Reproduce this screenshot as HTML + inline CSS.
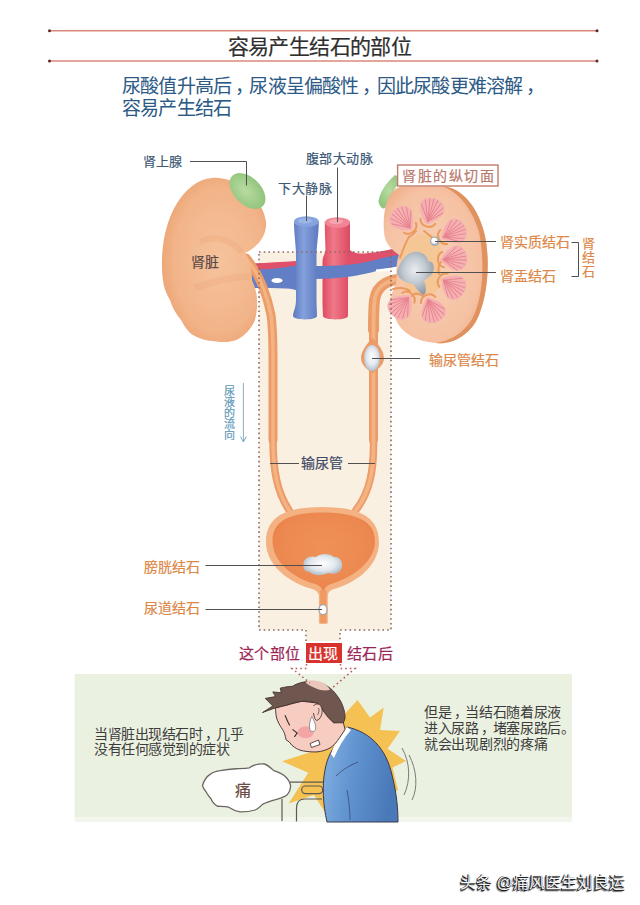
<!DOCTYPE html>
<html lang="zh-CN"><head><meta charset="utf-8">
<style>
html,body{margin:0;padding:0;background:#fff;}
body{width:640px;height:905px;position:relative;overflow:hidden;font-family:"Liberation Sans",sans-serif;}
.t{position:absolute;white-space:nowrap;line-height:1;-webkit-text-stroke:0.2px currentColor;}
svg{position:absolute;left:0;top:0;}
.or{color:#dd8848;}
.cm{position:relative;left:0.18em;}
</style></head><body>
<svg width="640" height="905" viewBox="0 0 640 905">
<defs>
  <radialGradient id="kidL" cx="0.55" cy="0.5" r="0.62">
    <stop offset="0" stop-color="#f6c39c"/>
    <stop offset="0.7" stop-color="#f2b489"/>
    <stop offset="1" stop-color="#e99f6e"/>
  </radialGradient>
  <radialGradient id="kidR" cx="0.45" cy="0.5" r="0.6">
    <stop offset="0" stop-color="#f8d0b6"/>
    <stop offset="0.8" stop-color="#f5c1a2"/>
    <stop offset="1" stop-color="#efad88"/>
  </radialGradient>
  <linearGradient id="ivc" x1="0" x2="1">
    <stop offset="0" stop-color="#5d79c0"/>
    <stop offset="0.4" stop-color="#84a0dc"/>
    <stop offset="1" stop-color="#5d79c0"/>
  </linearGradient>
  <linearGradient id="aor" x1="0" x2="1">
    <stop offset="0" stop-color="#de4a62"/>
    <stop offset="0.4" stop-color="#f07888"/>
    <stop offset="1" stop-color="#dc4a62"/>
  </linearGradient>
  <radialGradient id="stone" cx="0.48" cy="0.42" r="0.6">
    <stop offset="0" stop-color="#e9edf0"/>
    <stop offset="0.5" stop-color="#c2cad2"/>
    <stop offset="1" stop-color="#8d97a3"/>
  </radialGradient>
  <radialGradient id="stone2" cx="0.5" cy="0.45" r="0.6">
    <stop offset="0" stop-color="#ffffff"/>
    <stop offset="0.55" stop-color="#e2e8ee"/>
    <stop offset="1" stop-color="#a9b5c2"/>
  </radialGradient>
  <radialGradient id="bladIn" cx="0.5" cy="0.45" r="0.6">
    <stop offset="0" stop-color="#ef9158"/>
    <stop offset="0.8" stop-color="#ec884f"/>
    <stop offset="1" stop-color="#e57a45"/>
  </radialGradient>
  <radialGradient id="adr" cx="0.45" cy="0.45" r="0.6">
    <stop offset="0" stop-color="#b9dca0"/>
    <stop offset="1" stop-color="#8fc27a"/>
  </radialGradient>
  <g id="pyr">
    <path d="M0,-1 C-8,-7 -13,-14 -12.5,-20 C-11.5,-26 -5,-28 0,-28 C5,-28 11.5,-26 12.5,-20 C13,-14 8,-7 0,-1 Z" fill="#f5b0b2"/>
    <g stroke="#e67a88" stroke-width="0.9" fill="none" opacity="0.85">
      <path d="M0,-4 L-11.5,-19"/><path d="M0,-4 L-9,-24"/><path d="M0,-4 L-5,-26.5"/><path d="M0,-4 L-1,-27.5"/><path d="M0,-4 L3,-27.5"/><path d="M0,-4 L7,-25.5"/><path d="M0,-4 L10.5,-22"/><path d="M0,-4 L12,-17"/>
    </g>
    <path d="M-8,-5 C-6,3 6,3 8,-5" fill="none" stroke="#eb9b5e" stroke-width="2"/>
  </g>
</defs>

<!-- header lines -->
<line x1="49.5" y1="30.8" x2="597" y2="30.8" stroke="#d98a78" stroke-width="1.6"/>
<line x1="49.5" y1="61" x2="597" y2="61" stroke="#d98a78" stroke-width="1.6"/>
<circle cx="49.5" cy="30.8" r="1.5" fill="#5a2a2a"/>
<circle cx="597" cy="30.8" r="1.5" fill="#5a2a2a"/>
<circle cx="49.5" cy="61" r="1.5" fill="#5a2a2a"/>
<circle cx="597" cy="61" r="1.5" fill="#5a2a2a"/>

<!-- beige region -->
<path d="M259,252 H391 V630 H340 V641 H306 V630 H259 Z" fill="#f9f0e1"/>

<!-- vessels -->
<path d="M250,263.5 C265,263 280,262 296,261 L296,270 C280,270 265,270.5 250,271 Z" fill="#e0506a"/>
<path d="M250,270 C265,269.5 280,268.5 292,266 L300,266 L300,292 C296,290 292,288.5 286,288.5 C275,288 262,288 250,288 Z" fill="#627ec4"/>
<ellipse cx="277" cy="280.5" rx="5.5" ry="2.5" fill="#fff"/>
<path d="M294,221.6 C294,235 296,245 296,256 L296,300 C296,308 293,312 293,316 C293,320.5 317,320.5 317,316 C317,312 316.5,305 316.5,300 L316.5,256 C316.5,245 318.8,235 318.8,221.6 Z" fill="url(#ivc)"/>
<ellipse cx="306.4" cy="221.6" rx="12.4" ry="5.3" fill="#86a3dd"/>
<ellipse cx="305" cy="220.8" rx="7" ry="2.6" fill="#9bb5e6"/>
<path d="M348,247 C350,252 356,254 365,253.5 C380,252 392,249 402,246.5 L402,257 C390,259 375,262 360,265 L348,267 Z" fill="#e0506a"/>
<path d="M324.75,221.6 C324.75,235 325.5,244 325.5,250 C325.5,254 322.5,256 322.5,262 L322.5,300 C322.5,308 323,312 323,316 C323,320.5 348,320.5 348,316 C348,312 348,305 348,300 L348,262 C348,256 350,254 350,250 C350,244 350,235 350,221.6 Z" fill="url(#aor)"/>
<ellipse cx="337.4" cy="222.5" rx="12.6" ry="5.3" fill="#f28595"/>
<ellipse cx="336" cy="221.6" rx="7" ry="2.6" fill="#f7a3ae"/>
<path d="M316,266 C335,266 355,265.5 375,260 C387,256.5 395,255 402,255 L402,266 C394,267 386,268 378,270.5 C360,276 340,278.5 316,279 Z" fill="#627ec4"/>
<path d="M376,269.6 C382,268.5 388,268 393,268 L393,271 C387,271 381,271.3 376,271.8 Z" fill="#fff"/>

<!-- left ureter -->
<path d="M246,258 C256,270 266,290 271,315 C273,330 273,345 273,360 L273,440" fill="none" stroke="#ec9c68" stroke-width="9" stroke-linecap="round"/>
<path d="M273,440 C273,470 277,492 289,510" fill="none" stroke="#ec9c68" stroke-width="7.5" stroke-linecap="round"/>
<path d="M246,258 C256,270 266,290 271,315 C273,330 273,345 273,360 L273,440 C273,470 277,492 289,510" fill="none" stroke="#f4b383" stroke-width="3.5" stroke-linecap="round"/>
<!-- right ureter -->
<path d="M404,279 C392,279 377,283 374.5,300 C373.5,310 373.5,320 373.5,330" fill="none" stroke="#ec9c68" stroke-width="11" stroke-linecap="round"/>
<path d="M373.5,322 L373.5,440" fill="none" stroke="#ec9c68" stroke-width="9" stroke-linecap="round"/>
<path d="M373.5,440 C374,470 370,492 356,510" fill="none" stroke="#ec9c68" stroke-width="7.5" stroke-linecap="round"/>
<path d="M404,279 C392,279 377,283 374.5,300 C373.5,310 373.5,320 373.5,330 L373.5,440 C374,470 370,492 356,510" fill="none" stroke="#f4b383" stroke-width="3.8" stroke-linecap="round"/>
<!-- ureter stone -->
<path d="M372.5,337.5 C378,344 384,351 384,358 C384,365 378,369 372.5,373.5 C367,369 361,365 361,358 C361,351 367,344 372.5,337.5 Z" fill="#ec9c68"/>
<ellipse cx="372" cy="358" rx="8" ry="13" fill="url(#stone2)"/>

<!-- left kidney -->
<path d="M212,178 C235,176 262,195 266,222 C267,236 258,247 245,253 C247,256 249,259 249.4,262 C251,268 252,274 252,280 C255,287 257,293 257,300 C257.5,308 256.5,314 255,320 C252.5,326 249,331 244,335 C238,340 232,342 225,342 C213,342 201,340 193,335 C187,331 184,325 181,320 C176,314 172,307 170,300 C166,293 163.5,287 163,280 C162,273 161.8,266 162,260 C162.5,240 167,220 176.5,204 C185,190 197,179 212,178 Z" fill="url(#kidL)"/>
<path d="M200,242 C214,234 232,240 242,252" fill="none" stroke="#e89a6c" stroke-width="6" opacity="0.22"/>
<path d="M195,288 C210,282 228,278 250,276" fill="none" stroke="#e89a6c" stroke-width="7" opacity="0.2"/>
<!-- left adrenal -->
<ellipse cx="247.5" cy="191" rx="13.5" ry="21.5" transform="rotate(-45 247.5 191)" fill="url(#adr)"/>

<!-- right kidney -->
<path d="M378.5,201 C380,192 386,183 395,175 L402,179 C396,186 391,195 389,203 C388,206 385,208.5 383,208.5 C380.5,207.5 378.8,204 378.5,201 Z" fill="url(#adr)"/>
<path d="M443,186.5 C460,187 477,205 484,232 C490,255 489,290 479,315 C471,335 452,345 436,343 C412,341 398,330 394,314 C390,305 390,298 393,290 C397,283 397,278 396.5,275 C396,268 397,260 399,255 C392,250 386,244 384.5,236 C383,226 383.5,214 386,205 C389,195 394,188 402,186.5 Z" fill="url(#kidR)"/>
<path d="M443,186.5 C460,187 477,205 484,232 C490,255 489,290 479,315 C471,335 452,345 436,343 C455,340 470,328 476,310 C484,288 484,255 479,232 C472,208 458,192 443,186.5 Z" fill="#e0925e"/>
<!-- sinus -->
<path d="M412,238 C420,233 432,232 438,238 C442,246 441,254 439,262 C442,274 442,286 436,292 C428,297 416,296 409,290 C403,284 400,274 401,262 C401,251 405,243 412,238 Z" fill="#f6c796"/>
<g stroke="#eb9b5e" stroke-width="2" fill="none" stroke-linecap="round">
  <path d="M400,258 C403,250 405,243 409,237"/>
  <path d="M409,237 C412,236 414,233 416,231"/>
  <path d="M424,231 C428,234 432,237 434,240"/>
  <path d="M441,262 C438,266 438,270 439,274"/>
  <path d="M423,296 C418,293 414,293 412,296"/>
  <path d="M393,289 C400,287 406,288 410,291"/>
</g>
<use href="#pyr" transform="translate(412.6,231) rotate(-40)"/>
<use href="#pyr" transform="translate(426.5,225.4) rotate(18)"/>
<use href="#pyr" transform="translate(440,239) rotate(63)"/>
<use href="#pyr" transform="translate(439,260) rotate(84)"/>
<use href="#pyr" transform="translate(440,278) rotate(122)"/>
<use href="#pyr" transform="translate(426.5,296) rotate(157)"/>
<use href="#pyr" transform="translate(411,294.5) rotate(-140)"/>
<!-- stones in kidney -->
<circle cx="434.8" cy="241.3" r="4.8" fill="#a8b0b8"/>
<circle cx="434.3" cy="240.8" r="3" fill="#fff"/>
<path d="M414,252 C422,251 428,256 428,261 C433,261 435,266 433,272 C431,277 426,278 424,281 C426,286 427,292 424,295 C420,294 416,288 413,284 C405,283 397,278 397,272 C399,263 406,253 414,252 Z" fill="url(#stone)"/>

<!-- bladder -->
<path d="M322,507 C352,507 379,513 379,542 C379,566 356,583 334,589 C330,590.5 328,592 327.8,596 L327.8,623.5 H318.9 L318.9,596 C318.5,592 316,590.5 312,589 C290,583 266,566 266,542 C266,513 292,507 322,507 Z" fill="#f4b282"/>
<path d="M322.5,512.5 C350,512.5 375,518 375,541 C375,562 352,578 331,584 C327,585.5 325,587.5 323.3,591 C321.5,587.5 319.5,585.5 315,584 C293,578 272.5,562 272.5,541 C272.5,518 295,512.5 322.5,512.5 Z" fill="url(#bladIn)"/>
<path d="M320.2,590 H326.5 V623.5 H320.2 Z" fill="#ef9a62"/>
<path d="M303.5,565 C303,558 310,555 316,557 C320,553 330,553 334,557 C340,556 343,562 342,567 C341,573 334,575 328,573 C322,576 313,576 310,572 C305,572 303,569 303.5,565 Z" fill="url(#stone2)"/>
<ellipse cx="323" cy="609.7" rx="4" ry="5" fill="#fff" stroke="#9aa6b4" stroke-width="1.2"/>

<!-- dotted outline -->
<path d="M259,252 H391 V630 H340 V641 M306,641 V630 H259 V252" fill="none" stroke="#8c6868" stroke-width="1.6" stroke-dasharray="1.6 3.1"/>

<!-- label lines -->
<g stroke="#505050" stroke-width="1" fill="none">
  <path d="M190,161.5 H246.5 V185.5"/>
  <path d="M306.5,195.5 V221"/>
  <path d="M337.5,167.5 V222"/>
  <path d="M435,241.5 H496"/>
  <path d="M416,272.5 H496"/>
  <path d="M372,358.5 H420"/>
  <path d="M571.5,242.5 H578.5 V276.5 H571.5"/>
  <path d="M270,463.5 H299"/>
  <path d="M348,463.5 H375"/>
  <path d="M205.5,565.5 H322"/>
  <path d="M205.5,609.5 H322"/>
</g>
<!-- urine flow arrow -->
<path d="M243.4,383 V441" stroke="#86aec6" stroke-width="1"/>
<path d="M240.5,436.5 L243.4,442 L246.3,436.5" stroke="#7aa8c4" stroke-width="1" fill="none"/>

<!-- label box -->
<rect x="397.6" y="165" width="100.4" height="21" fill="#fff" stroke="#c27a6c" stroke-width="1.4"/>

<!-- green panel -->
<rect x="74.7" y="674" width="497.3" height="148" fill="#f2f6ec"/>
<rect x="74.7" y="674" width="497.3" height="143" fill="#ebf1e1"/>
<!-- starburst -->
<path d="M357.5,700 L370,717.5 L383.75,707.5 L380,730 L400,731 L387.5,748.75 L406,761 L392.5,767.5 L398,790 L380,800 L340,821 L327,815.5 L314,795 L288.6,803.4 L308.3,772.8 L282,761.3 L311,752 L300,728 L333,735 L346,712.5 Z" fill="#f4c152"/>
<!-- desk -->
<g fill="none" stroke="#5d5a55" stroke-width="1.2">
  <path d="M289.7,782.1 H326"/>
  <rect x="301.7" y="786" width="21" height="7.6" rx="3.8"/>
  <path d="M282,799 V821"/>
  <path d="M296.5,821.5 V808 C296.5,802 299,799 305,799 H322"/>
</g>
<!-- cloud -->
<path d="M202.5,785.6 C204,780 206,777 210,774.4 C213,772 217,771 220.3,770.6 C226,769.5 231,769 236,768.75 C241,768.5 245,768.5 249.4,767.8 C251,766.5 253,765.5 255,765 C258,764 261,763.8 264.4,764 C268,765 271,768 273.75,770.6 C278,772 282,773.5 285,776.25 C288,779 290,782 290.6,785.6 C290.5,790 289,793 286.9,795 C284,797.5 279,798.5 275.6,799.7 C271,801 266,802.5 262.5,804.4 C260,807 258,809 255,810 C250,811.5 245,812 240,811.9 C235,811 231.5,809 228.75,807.2 C225,806.5 221,806.5 217.5,806.25 C214.5,804.5 212,801.5 211,798.75 C209,796.5 207.5,794.5 206.25,792.2 C204.5,790 203,788 202.5,785.6 Z" fill="#fff" stroke="#6a6660" stroke-width="1.3"/>
<!-- body -->
<defs>
<linearGradient id="suit" x1="0" x2="1" y1="0" y2="0.2">
  <stop offset="0" stop-color="#84b3e3"/>
  <stop offset="0.45" stop-color="#6294d1"/>
  <stop offset="1" stop-color="#4a79b9"/>
</linearGradient>
</defs>
<path d="M347,727 C370,732 386,748 392,775 C397,795 398,810 398,822 L327,822 C323,805 322,785 325,770 C327,758 332,748 340,740 Z" fill="url(#suit)" stroke="#3a3a48" stroke-width="1"/>
<path d="M331,754 C334,744 341,733 347,727 L351,730 C344,738 338,748 334,758 Z" fill="#fff"/>
<path d="M336,776 C342,770 350,765 358,762" fill="none" stroke="#3a4a70" stroke-width="0.8"/>
<path d="M347,790 C349,800 350,812 350,820" fill="none" stroke="#3a4a70" stroke-width="0.8"/>
<!-- motion lines -->
<path d="M402,748 C410,762 411,780 404,795" fill="none" stroke="#7a7a78" stroke-width="1"/>
<path d="M409,755 C417,770 418,788 412,800" fill="none" stroke="#7a7a78" stroke-width="1"/>
<!-- head: face -->
<path d="M275.6,707.8 C275.5,712 276,715 276.6,718 C278,722 279.5,725 281.25,727.5 C283,730 284.5,733 285,735 C285.5,737.5 286,739 286,739.7 C287.5,740.5 288.5,741.5 289.7,742.5 C291,744.5 292.5,746 294.4,747.2 C297,749 300,750.5 303.75,751 C308,751.8 312,752 316.9,751.9 C322,751.5 326,750 330,748 C333,746 335.5,743.5 337.5,740.6 C340,737 343,733 345,729.4 L343,721 L333.75,722.8 L317,703 L301.9,701.25 L286.9,705 Z" fill="#f7cdc2" stroke="#4a3a38" stroke-width="1"/>
<ellipse cx="305.6" cy="732.2" rx="8" ry="6" fill="#ee8a90" opacity="0.6"/>
<!-- hair -->
<path d="M262.5,712.5 L272.8,706 L265.3,698.4 L275.6,696.6 L272.8,691.9 L281.25,692.8 L280.3,688.1 C285,687 289,686.5 292.5,686.25 C297,683.5 302,682 307.5,681.6 C314,681.5 320,682.5 324.4,684.4 C329,687 333,690 335.6,693.75 C339,698 341.5,702 343.1,706.9 C344.5,711 345.2,714.5 345,718 C344.8,720 344,721.5 343.1,722.8 L333.75,722.8 C330,720 327,716 324.4,712.5 C322,708 319.5,705 316.9,703 C312,701.5 307,701 301.9,701.25 C296,702 291,703.5 286.9,705 C283,706 279,707 275.6,707.8 C271,709.5 266.5,711 262.5,712.5 Z" fill="#6f5750" stroke="#43332f" stroke-width="0.9"/>
<path d="M305.6,682.5 C307,681 309,680.3 311.25,680.25 C316,680.3 320.5,681.5 324.4,683.4 C327,685.5 329,687.5 330,690 C327,690.5 323.5,690.5 320.6,690 C317,689 314,687.5 311.25,686.25 C309,685.2 307,684 305.6,682.5 Z" fill="#ebc6ba"/>
<!-- funnel dotted lines -->
<path d="M306.5,664 V668.5 H292 L310,683" fill="none" stroke="#b55a55" stroke-width="1.5" stroke-dasharray="1.6 3"/>
<path d="M340.5,664 V668.5 H355 L331,689" fill="none" stroke="#b55a55" stroke-width="1.5" stroke-dasharray="1.6 3"/>
<!-- ear -->
<path d="M313.5,706 C316,702.5 321,703.5 322,709 C322.8,714 320.5,719.5 316.5,720.5 C314.5,719 314,716 313.5,713" fill="#f7cdc2" stroke="#43332f" stroke-width="0.9"/>
<path d="M318.5,708 C319.5,710 319,713 317.5,715" fill="none" stroke="#43332f" stroke-width="0.7"/>
<!-- eyes/brows -->
<path d="M285,715.3 C286.5,719 288,722.5 289.7,725.6" fill="none" stroke="#3a2a2a" stroke-width="1.1"/>
<path d="M292.5,729.4 L297.2,733.1 L294.4,736.9" fill="none" stroke="#3a2a2a" stroke-width="1.1"/>
<!-- tear -->
<path d="M311.8,716.5 C309.5,721 309,726.5 309.8,729.5 C311,732.2 314.5,732.2 315.5,729.5 C316.3,726 314.5,721 311.8,716.5 Z" fill="#fff" stroke="#6a6a72" stroke-width="0.7"/>
<!-- mouth -->
<path d="M310,743.6 L318.5,740 L320,744.5 L311.5,747.5 Z" fill="#fff" stroke="#4a3a38" stroke-width="0.9"/>
</svg>

<div class="t" id="title" style="left:227.5px;top:35.5px;font-size:21px;letter-spacing:-0.6px;color:#2e2e2e;">容易产生结石的部位</div>
<div class="t" id="sub1" style="-webkit-text-stroke:0.05px currentColor;left:122px;top:76.5px;font-size:19px;letter-spacing:-0.8px;color:#2c5a86;">尿酸值升高后<span class="cm">，</span>尿液呈偏酸性<span class="cm">，</span>因此尿酸更难溶解<span class="cm">，</span></div>
<div class="t" id="sub2" style="-webkit-text-stroke:0.05px currentColor;left:122px;top:98.5px;font-size:19px;letter-spacing:-0.8px;color:#2c5a86;">容易产生结石</div>

<div class="t" style="left:142.5px;top:155px;font-size:13px;color:#3c5876;">肾上腺</div>
<div class="t" style="left:305.5px;top:151.5px;font-size:13px;letter-spacing:0.65px;color:#3c5876;">腹部大动脉</div>
<div class="t" style="left:278px;top:182px;font-size:13px;letter-spacing:0.65px;color:#3c5876;">下大静脉</div>
<div class="t" style="left:191px;top:255px;font-size:14px;color:#5a4a4a;">肾脏</div>
<div class="t" style="left:402px;top:169px;font-size:14px;letter-spacing:1.6px;color:#b8786c;">肾脏的纵切面</div>
<div class="t or" style="left:500px;top:234.5px;font-size:14px;">肾实质结石</div>
<div class="t or" style="left:500px;top:268.5px;font-size:14px;">肾盂结石</div>
<div class="t or" style="left:581.5px;top:237px;font-size:13px;line-height:14px;width:13px;white-space:normal;">肾结石</div>
<div class="t or" style="left:428.5px;top:352.5px;font-size:14px;">输尿管结石</div>
<div class="t" style="left:224px;top:385.5px;font-size:11px;line-height:11.2px;width:12px;white-space:normal;color:#5f9ab8;">尿液的流向</div>
<div class="t" style="left:300.5px;top:455.5px;font-size:14px;color:#3e4a66;">输尿管</div>
<div class="t or" style="left:144px;top:560px;font-size:14px;">膀胱结石</div>
<div class="t or" style="left:144px;top:601px;font-size:14px;">尿道结石</div>

<div class="t" style="left:239px;top:645.5px;font-size:15px;letter-spacing:0.4px;color:#9b2555;">这个部位</div>
<div style="position:absolute;left:305.6px;top:643px;width:36.6px;height:19.5px;background:#d8322c;"></div>
<div class="t" style="left:308px;top:645.5px;font-size:15px;color:#fff;">出现</div>
<div class="t" style="left:346.5px;top:645.5px;font-size:15px;letter-spacing:0.6px;color:#9b2555;">结石后</div>

<div class="t" style="left:234.5px;top:782.5px;font-size:16px;color:#6a4a42;">痛</div>
<div class="t" style="left:94px;top:726.5px;font-size:14px;letter-spacing:-0.45px;line-height:15.9px;color:#3c3c3c;-webkit-text-stroke:0;">当肾脏出现结石时<span class="cm">，</span>几乎<br>没有任何感觉到的症状</div>
<div class="t" style="left:424px;top:703.5px;font-size:14px;letter-spacing:-0.3px;line-height:16.35px;color:#3c3c3c;-webkit-text-stroke:0;">但是<span class="cm">，</span>当结石随着尿液<br>进入尿路<span class="cm">，</span>堵塞尿路后。<br>就会出现剧烈的疼痛</div>

<div class="t" style="left:460px;top:875px;font-size:16px;color:#f4f4f4;-webkit-text-stroke:0;text-shadow:-1px 1px 0 #222,-1px 0 0 #333,0 1px 0 #333,-1.5px 1.5px 1px #666;">头条 @痛风医生刘良运</div>
</body></html>
